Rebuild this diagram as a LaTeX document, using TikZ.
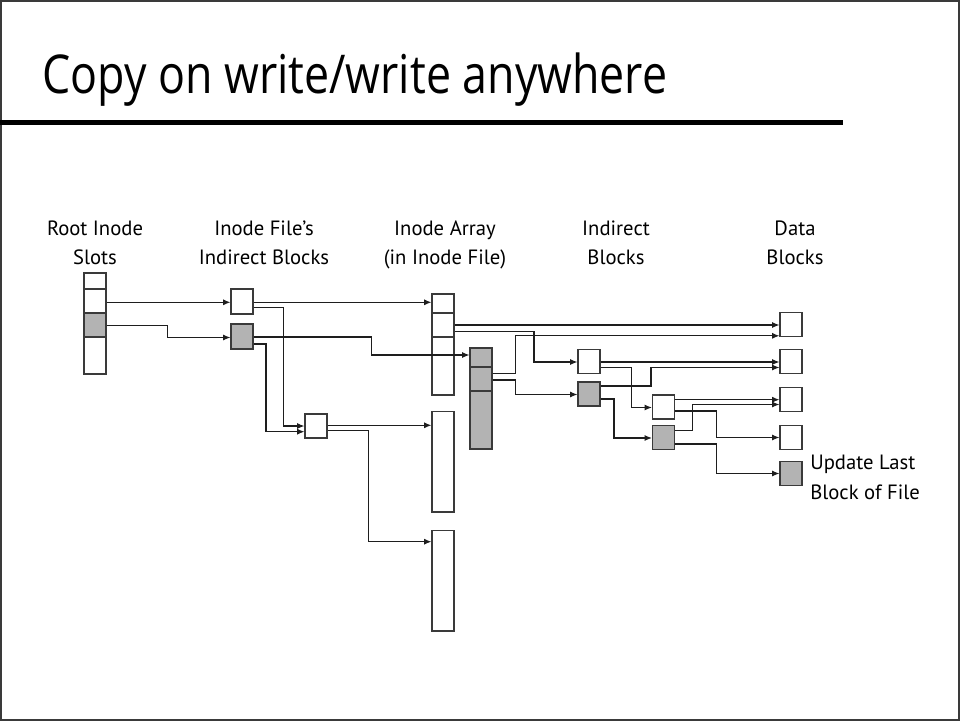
\documentclass[tikz,border=0pt]{standalone}
\usepackage{fontspec}
\setmainfont{PT Sans}
\newfontfamily\titlefont{Open Sans}
\usetikzlibrary{arrows.meta}
\definecolor{cellgray}{HTML}{B3B3B3}
\definecolor{edgec}{HTML}{3A3A3A}
\definecolor{wirec}{HTML}{1E1E1E}
\begin{document}
\begin{tikzpicture}[x=0.75pt,y=-0.75pt,
  blk/.style={draw=edgec,line width=0.95pt,fill=white,inner sep=0pt,
    minimum width=16.5pt,minimum height=18pt},
  full/.style={fill=cellgray},
  conn/.style={draw=wirec,line width=0.8pt,
    -{Latex[length=5.5pt,width=4.6pt]}},
  lbl/.style={inner sep=0pt,anchor=base,font=\fontsize{15.5}{18}\selectfont},
  note/.style={inner sep=0pt,anchor=base west,font=\fontsize{15.5}{18}\selectfont}]
\useasboundingbox (0,0) rectangle (960,721);

% slide frame and title
\draw[edgec,line width=1.4pt] (1,1) rectangle (959,720);
\node[inner sep=0pt,anchor=base west] (title) at (42,93)
  {\resizebox{468.75pt}{30.5pt}{\titlefont Copy on write/write anywhere}};
\draw[black,line width=3.5pt] (0,122.5) -- (843,122.5);

% column headings
\node[lbl] (h1a) at (95,235) {Root Inode};
\node[lbl] (h1b) at (95,264) {Slots};
\node[lbl] (h2a) at (264,235) {Inode File’s};
\node[lbl] (h2b) at (264,264) {Indirect Blocks};
\node[lbl] (h3a) at (445,235) {Inode Array};
\node[lbl] (h3b) at (445,264) {(in Inode File)};
\node[lbl] (h4a) at (616,235) {Indirect};
\node[lbl] (h4b) at (616,264) {Blocks};
\node[lbl] (h5a) at (795,235) {Data};
\node[lbl] (h5b) at (795,264) {Blocks};

% root inode slots
\node[blk,minimum height=12pt] (R1) at (95,281) {};
\node[blk] (R2) at (95,301) {};
\node[blk,full] (R3) at (95,325) {};
\node[blk,minimum height=27.75pt] (R4) at (95,355.5) {};

% indirect blocks of the inode file
\node[blk,minimum height=18.75pt] (A) at (242,301.5) {};
\node[blk,full,minimum height=18.75pt] (B) at (242,336.5) {};
\node[blk] (C) at (316,426) {};

% inode array
\node[blk,minimum height=14.25pt] (E1) at (443,303.5) {};
\node[blk] (E2) at (443,325) {};
\node[blk,minimum height=43.5pt] (E3) at (443,366) {};
\node[blk,minimum height=75.4pt] (F) at (443,461.75) {};
\node[blk,minimum height=75.4pt] (G) at (443,580.75) {};
\node[blk,full,minimum height=14.25pt] (D1) at (481,357.5) {};
\node[blk,full] (D2) at (481,379) {};
\node[blk,full,minimum height=43.5pt] (D3) at (481,420) {};

% indirect blocks
\node[blk] (H) at (589,361.3) {};
\node[blk,full] (I) at (589,394) {};
\node[blk] (J) at (663.5,407) {};
\node[blk,full] (K) at (663.5,437.3) {};

% data blocks
\node[blk] (DB1) at (791,324.5) {};
\node[blk] (DB2) at (791,361.3) {};
\node[blk] (DB3) at (791,399.3) {};
\node[blk] (DB4) at (791,437.3) {};
\node[blk,full] (DB5) at (791,473.3) {};
\node[note] (upd1) at (810,469) {Update Last};
\node[note] (upd2) at (810,499) {Block of File};

% pointers
\draw[conn] (R2.east |- 0,302.3) -- (A.west |- 0,302.3);
\draw[conn] (R3.east |- 0,325.3) -| (167.7,337.5) -- (B.west |- 0,337.5);
\draw[conn] (A.east |- 0,302.3) -- (E1.west |- 0,302.3);
\draw[conn] (A.east |- 0,307.3) -| (283.3,426) -- (C.west |- 0,426);
\draw[conn] (B.east |- 0,337) -| (371.3,355) -- (D1.west |- 0,355);
\draw[conn] (B.east |- 0,344) -| (266,431.7) -- (C.west |- 0,431.7);
\draw[conn] (C.east |- 0,425.3) -- (F.west |- 0,425.3);
\draw[conn] (C.east |- 0,430.5) -| (368.7,541.7) -- (G.west |- 0,541.7);
\draw[conn] (E2.east |- 0,325) -- (DB1.west |- 0,325);
\draw[conn] (E2.east |- 0,331.7) -| (534,362) -- (H.west |- 0,362);
\draw[conn] (D2.east |- 0,373.7) -| (515.7,335.8) -- (DB1.west |- 0,335.8);
\draw[conn] (D2.east |- 0,380) -| (515.7,394.5) -- (I.west |- 0,394.5);
\draw[conn] (H.east |- 0,362) -- (DB2.west |- 0,362);
\draw[conn] (H.east |- 0,367.3) -| (631.7,407.5) -- (J.west |- 0,407.5);
\draw[conn] (I.east |- 0,386) -| (651,367.5) -- (DB2.west |- 0,367.5);
\draw[conn] (I.east |- 0,399) -| (614,438) -- (K.west |- 0,438);
\draw[conn] (J.east |- 0,399.7) -- (DB3.west |- 0,399.7);
\draw[conn] (J.east |- 0,411) -| (716.3,437.5) -- (DB4.west |- 0,437.5);
\draw[conn] (K.east |- 0,430.3) -| (692.7,404.5) -- (DB3.west |- 0,404.5);
\draw[conn] (K.east |- 0,444) -| (716.3,473.5) -- (DB5.west |- 0,473.5);
\end{tikzpicture}
\end{document}
